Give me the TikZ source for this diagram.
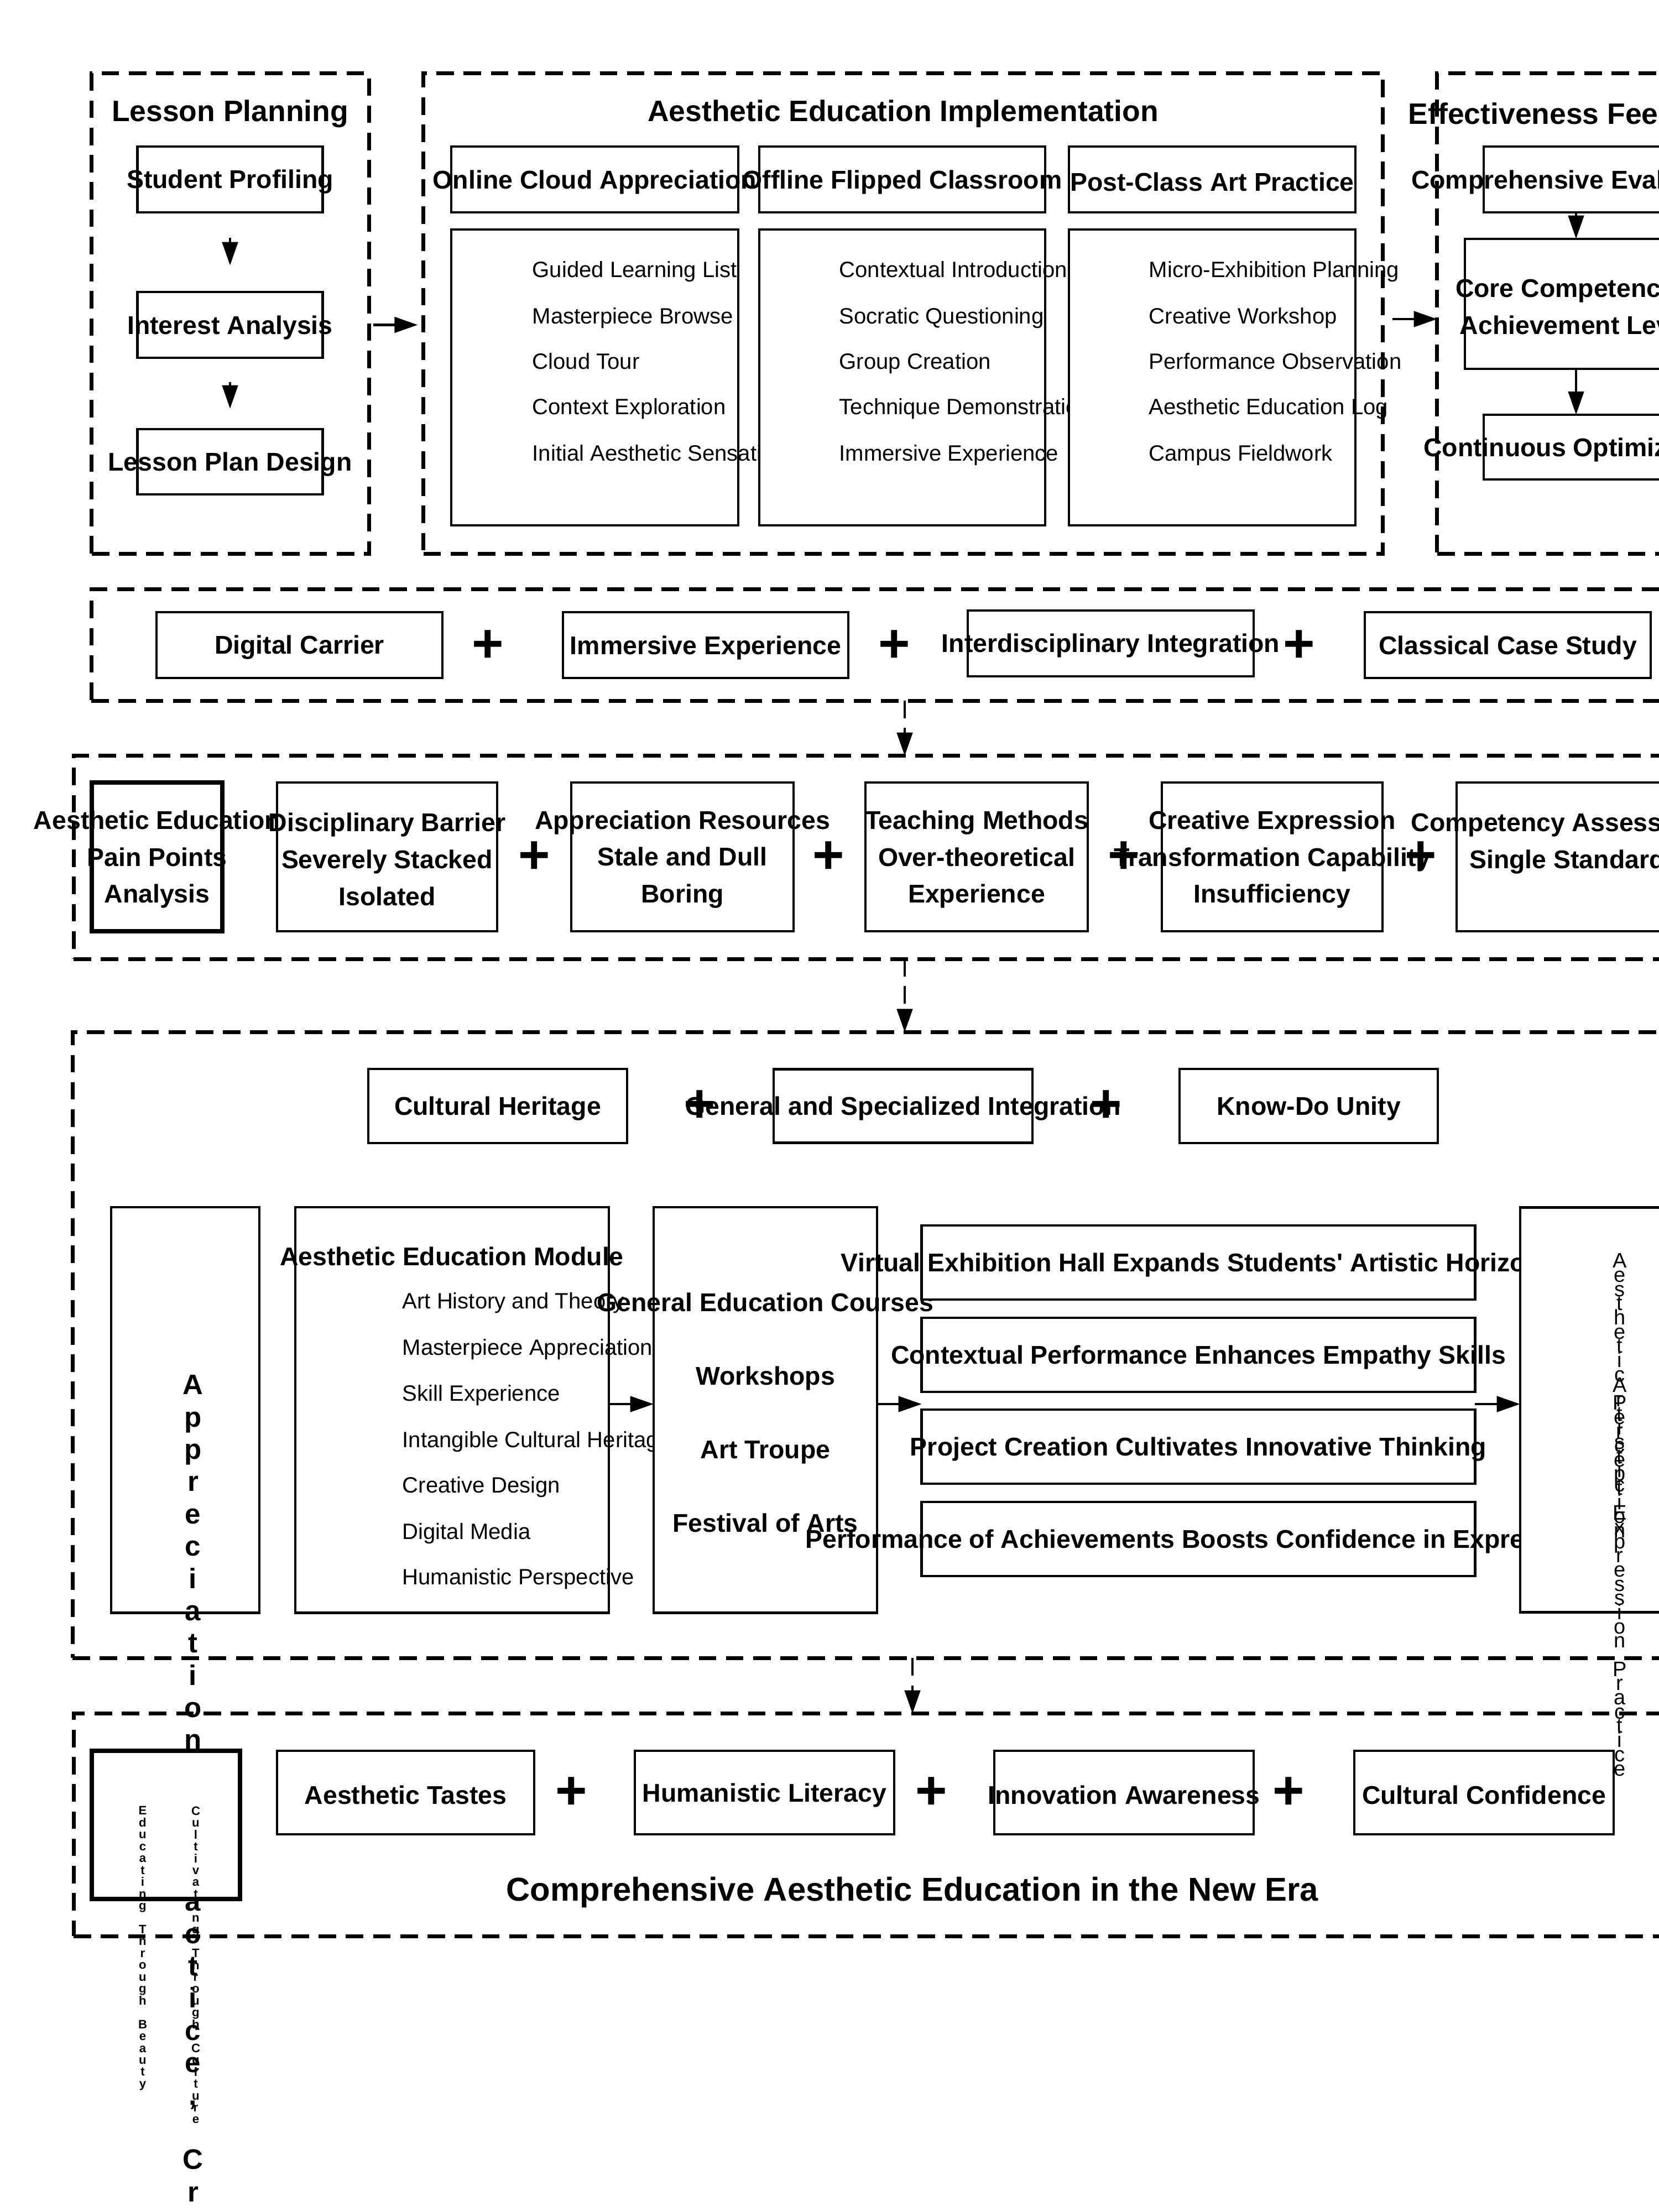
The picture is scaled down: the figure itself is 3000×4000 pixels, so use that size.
\documentclass[tikz,border=0pt]{standalone}
\usepackage{fontspec}
\setmainfont{Liberation Sans}
\usetikzlibrary{arrows.meta, positioning, calc}

\begin{document}
\begin{tikzpicture}[x=0.01cm, y=-0.01cm,
  dashframe/.style={draw, line width=2pt, dash pattern=on 9pt off 5pt, inner sep=0pt, outer sep=0pt},
  box/.style={draw, fill=white, line width=1.3pt, inner sep=0pt, outer sep=0pt},
  thickbox/.style={box, line width=2.4pt},
  lbl/.style={font=\fontsize{13.2}{19}\selectfont\bfseries, align=center, inner sep=0pt, yshift=-1.3pt},
  head/.style={font=\fontsize{15.2}{18}\selectfont\bfseries, inner sep=0pt, yshift=-0.8pt},
  item/.style={font=\fontsize{11.4}{14}\selectfont, anchor=west, inner sep=0pt, text height=0.75em, text depth=0.25em, yshift=-1.3pt},
  plus/.style={font=\fontsize{28}{28}\selectfont\bfseries, inner sep=0pt},
  arr/.style={-{Triangle[length=12pt, width=8pt]}, line width=1.3pt},
  darr/.style={arr, dash pattern=on 9pt off 5pt},
  vtext/.style={align=center, inner sep=0pt, anchor=north}
]
  \fill[white] (0,0) rectangle (3000,4000);
  \useasboundingbox (0,0) rectangle (3000,4000);

  % Lesson planning column
  \node[dashframe, minimum width=5.01cm, minimum height=8.68cm] (lesson) at (416.5,567) {};
  \node[head] (lessont) at (416,203) {Lesson Planning};
  \node[box, minimum width=3.35cm, minimum height=1.19cm, label={[lbl]center:Student Profiling}] (sp) at (416,324.5) {};
  \node[box, minimum width=3.35cm, minimum height=1.19cm, label={[lbl]center:Interest Analysis}] (ia) at (416,587.5) {};
  \node[box, minimum width=3.35cm, minimum height=1.18cm, label={[lbl]center:Lesson Plan Design}] (lpd) at (416,835) {};
  \draw[arr, shorten <=0.46cm, shorten >=0.48cm] (sp) -- (ia);
  \draw[arr, shorten <=0.44cm, shorten >=0.37cm] (ia) -- (lpd);

  % Implementation column
  \node[dashframe, minimum width=17.34cm, minimum height=8.68cm] (impl) at (1633,567) {};
  \node[head] (implt) at (1633,203) {Aesthetic Education Implementation};
  \node[box, minimum width=5.19cm, minimum height=1.19cm, label={[lbl]center:Online Cloud Appreciation}] (online) at (1075.5,324.5) {};
  \node[box, minimum width=5.17cm, minimum height=1.19cm, label={[lbl]center:Offline Flipped Classroom}] (offline) at (1631.5,324.5) {};
  \node[box, minimum width=5.18cm, minimum height=1.19cm, label={[lbl]center:Post-Class Art Practice}] (post) at (2192,324.5) {};

  \node[box, minimum width=5.19cm, minimum height=5.35cm] (onlist) at (1075.5,682.5) {};
  \node[item] (on1) at (962,488) {Guided Learning List};
  \node[item] (on2) at (962,572) {Masterpiece Browse};
  \node[item] (on3) at (962,654) {Cloud Tour};
  \node[item] (on4) at (962,736) {Context Exploration};
  \node[item] (on5) at (962,820) {Initial Aesthetic Sensation};

  \node[box, minimum width=5.17cm, minimum height=5.35cm] (offlist) at (1631.5,682.5) {};
  \node[item] (off1) at (1517,488) {Contextual Introduction};
  \node[item] (off2) at (1517,572) {Socratic Questioning};
  \node[item] (off3) at (1517,654) {Group Creation};
  \node[item] (off4) at (1517,736) {Technique Demonstration};
  \node[item] (off5) at (1517,820) {Immersive Experience};

  \node[box, minimum width=5.18cm, minimum height=5.35cm] (postlist) at (2192,682.5) {};
  \node[item] (po1) at (2077,488) {Micro-Exhibition Planning};
  \node[item] (po2) at (2077,572) {Creative Workshop};
  \node[item] (po3) at (2077,654) {Performance Observation};
  \node[item] (po4) at (2077,736) {Aesthetic Education Log};
  \node[item] (po5) at (2077,820) {Campus Fieldwork};

  % Feedback column
  \node[dashframe, minimum width=5.02cm, minimum height=8.68cm] (eff) at (2850,567) {};
  \node[head] (efft) at (2850,203) {Effectiveness Feedback};
  \node[box, minimum width=3.34cm, minimum height=1.19cm, label={[lbl]center:Comprehensive Evaluation}] (comp) at (2850,324.5) {};
  \node[box, minimum width=4.02cm, minimum height=2.35cm, label={[lbl]center:{Core Competencies\\Achievement Level}}] (core) at (2850,549.5) {};
  \node[box, minimum width=3.34cm, minimum height=1.17cm, label={[lbl]center:Continuous Optimization}] (cont) at (2850,808.5) {};
  \draw[arr] (comp) -- (core);
  \draw[arr] (core) -- (cont);

  \coordinate (fb) at (2550,577);
  \draw[arr, shorten <=0.08cm, shorten >=0.1cm] (lesson.east |- ia) -- (impl.west |- ia);
  \draw[arr, shorten <=0.17cm] (impl.east |- fb) -- (eff.west |- fb);

  % Row 2: means
  \node[dashframe, minimum width=29.40cm, minimum height=2.01cm] (row2) at (1636,1166.5) {};
  \node[box, minimum width=5.17cm, minimum height=1.19cm, label={[lbl]center:Digital Carrier}] (dc) at (541.5,1166.5) {};
  \node[box, minimum width=5.16cm, minimum height=1.19cm, label={[lbl]center:Immersive Experience}] (ie) at (1276,1166.5) {};
  \node[box, minimum width=5.17cm, minimum height=1.19cm, label={[lbl]center:Interdisciplinary Integration}] (ii) at (2008.5,1163.5) {};
  \node[box, minimum width=5.17cm, minimum height=1.19cm, label={[lbl]center:Classical Case Study}] (cc) at (2726.5,1166.5) {};
  \node[plus] (p21) at (882,1169) {+};
  \node[plus] (p22) at (1617,1169) {+};
  \node[plus] (p23) at (2349,1169) {+};

  % Row 3: pain points
  \node[dashframe, minimum width=30.04cm, minimum height=3.67cm] (row3) at (1636,1550.5) {};
  \node[thickbox, minimum width=2.36cm, minimum height=2.69cm, label={[lbl]center:{Aesthetic Education\\Pain Points\\Analysis}}] (pp) at (284,1549.5) {};
  \node[box, minimum width=3.98cm, minimum height=2.69cm, label={[lbl]center:{Disciplinary Barrier\\Severely Stacked\\Isolated}}] (db) at (700,1549.5) {};
  \node[box, minimum width=4.02cm, minimum height=2.69cm, label={[lbl]center:{Appreciation Resources\\Stale and Dull\\Boring}}] (ar) at (1234,1549.5) {};
  \node[box, minimum width=4.02cm, minimum height=2.69cm, label={[lbl]center:{Teaching Methods\\Over-theoretical\\Experience}}] (tm) at (1766,1549.5) {};
  \node[box, minimum width=3.99cm, minimum height=2.69cm, label={[lbl]center:{Creative Expression\\Transformation Capability\\Insufficiency}}] (ce) at (2300.5,1549.5) {};
  \node[box, minimum width=4.00cm, minimum height=2.69cm, label={[lbl]center:{Competency Assessment\\Single Standard\\\mbox{}}}] (ca) at (2834,1549.5) {};
  \node[plus] (p31) at (966,1551) {+};
  \node[plus] (p32) at (1498,1551) {+};
  \node[plus] (p33) at (2032,1551) {+};
  \node[plus] (p34) at (2569,1551) {+};

  % Row 4: integration path
  \node[dashframe, minimum width=30.06cm, minimum height=11.31cm] (row4) at (1635,2432.5) {};
  \node[box, minimum width=4.68cm, minimum height=1.34cm, label={[lbl]center:Cultural Heritage}] (ch) at (900,2000) {};
  \node[box, minimum width=4.68cm, minimum height=1.33cm, label={[lbl]center:General and Specialized Integration}] (gs) at (1633,2000) {};
  \node[box, minimum width=4.67cm, minimum height=1.34cm, label={[lbl]center:Know-Do Unity}] (kd) at (2366.5,2000) {};
  \node[plus] (p41) at (1265,2001) {+};
  \node[plus] (p42) at (2000,2001) {+};

  \node[box, minimum width=2.68cm, minimum height=7.33cm] (apbox) at (335,2549.5) {};
  \node[vtext, font={\fontsize{14.5}{16.6}\selectfont\bfseries\lineskiplimit-30pt}] (aptext) at (349,2486)
    {A\\p\\p\\r\\e\\c\\i\\a\\t\\i\\o\\n\\,\\\mbox{}\\P\\r\\a\\c\\t\\i\\c\\e\\,\\\mbox{}\\C\\r\\e\\a\\t\\i\\o\\n};

  \node[box, minimum width=5.67cm, minimum height=7.33cm] (module) at (817.5,2549.5) {};
  \node[lbl] (modt) at (817,2267) {Aesthetic Education Module};
  \node[item] (m1) at (727,2353) {Art History and Theory};
  \node[item] (m2) at (727,2437) {Masterpiece Appreciation};
  \node[item] (m3) at (727,2520) {Skill Experience};
  \node[item] (m4) at (727,2604) {Intangible Cultural Heritage};
  \node[item] (m5) at (727,2686) {Creative Design};
  \node[item] (m6) at (727,2770) {Digital Media};
  \node[item] (m7) at (727,2852) {Humanistic Perspective};

  \node[box, minimum width=4.04cm, minimum height=7.33cm, label={[lbl, font=\fontsize{13.2}{37.8}\selectfont\bfseries]center:{General Education Courses\\Workshops\\Art Troupe\\Festival of Arts}}] (courses) at (1384,2549.5) {};

  \node[box, minimum width=10cm, minimum height=1.34cm, label={[lbl]center:Virtual Exhibition Hall Expands Students\textquotesingle{} Artistic Horizons}] (o1) at (2167,2283) {};
  \node[box, minimum width=10cm, minimum height=1.34cm, label={[lbl]center:Contextual Performance Enhances Empathy Skills}] (o2) at (2167,2450) {};
  \node[box, minimum width=10cm, minimum height=1.34cm, label={[lbl]center:Project Creation Cultivates Innovative Thinking}] (o3) at (2167,2616) {};
  \node[box, minimum width=10cm, minimum height=1.34cm, label={[lbl]center:Performance of Achievements Boosts Confidence in Expression}] (o4) at (2167,2783) {};

  \node[box, minimum width=4.00cm, minimum height=7.32cm] (rbox) at (2949,2549.5) {};
  \node[vtext, font={\fontsize{10.8}{7.3}\selectfont\lineskiplimit-30pt}] (rt1) at (2929,2266)
    {A\\e\\s\\t\\h\\e\\t\\i\\c\\\mbox{}\\P\\e\\r\\c\\e\\p\\t\\i\\o\\n};
  \node[vtext, font={\fontsize{10.8}{7.3}\selectfont\lineskiplimit-30pt}] (rt2) at (2929,2491)
    {A\\r\\t\\i\\s\\t\\i\\c\\\mbox{}\\E\\x\\p\\r\\e\\s\\s\\i\\o\\n\\\mbox{}\\P\\r\\a\\c\\t\\i\\c\\e};

  \coordinate (mid) at (0,2539);
  \draw[arr] (module.east |- mid) -- (courses.west |- mid);
  \draw[arr] (courses.east |- mid) -- (o1.west |- mid);
  \draw[arr] (o1.east |- mid) -- (rbox.west |- mid);

  % Row 5: goals
  \node[dashframe, minimum width=30.32cm, minimum height=4.02cm] (row5) at (1650,3300) {};
  \node[thickbox, minimum width=2.68cm, minimum height=2.68cm] (edu) at (300,3300) {};
  \node[vtext, font={\fontsize{6.3}{6.1}\selectfont\bfseries\lineskiplimit-30pt}] (edut) at (258,3266)
    {E\\d\\u\\c\\a\\t\\i\\n\\g\\\mbox{}\\T\\h\\r\\o\\u\\g\\h\\\mbox{}\\B\\e\\a\\u\\t\\y};
  \node[vtext, font={\fontsize{6.3}{6.1}\selectfont\bfseries\lineskiplimit-30pt}] (cult) at (354,3266)
    {C\\u\\l\\t\\i\\v\\a\\t\\i\\n\\g\\\mbox{}\\T\\h\\r\\o\\u\\g\\h\\\mbox{}\\C\\u\\l\\t\\u\\r\\e};
  \node[box, minimum width=4.65cm, minimum height=1.51cm, label={[lbl]center:Aesthetic Tastes}] (at) at (733.5,3241.5) {};
  \node[box, minimum width=4.69cm, minimum height=1.51cm, label={[lbl]center:Humanistic Literacy}] (hl) at (1382.5,3241.5) {};
  \node[box, minimum width=4.69cm, minimum height=1.51cm, label={[lbl]center:Innovation Awareness}] (inn) at (2032.5,3241.5) {};
  \node[box, minimum width=4.69cm, minimum height=1.51cm, label={[lbl]center:Cultural Confidence}] (cf) at (2683.5,3241.5) {};
  \node[plus] (p51) at (1033,3243) {+};
  \node[plus] (p52) at (1684,3243) {+};
  \node[plus] (p53) at (2330,3243) {+};
  \node[font=\fontsize{17}{20}\selectfont\bfseries, inner sep=0pt, yshift=-1pt] (goal) at (1650,3418) {Comprehensive Aesthetic Education in the New Era};

  % links between rows
  \draw[darr] (row2.south) -- (row3.north);
  \draw[darr] (row3.south) -- (row3.south |- row4.north);
  \draw[darr] (row5.north |- row4.south) -- (row5.north);
\end{tikzpicture}
\end{document}
